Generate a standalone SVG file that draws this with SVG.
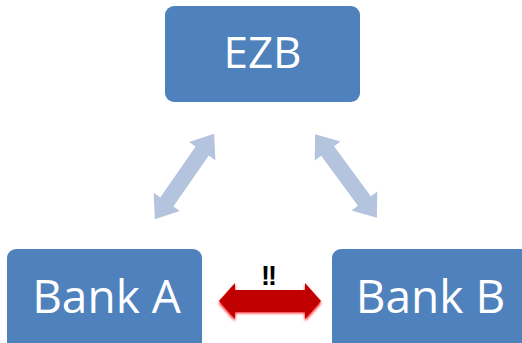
<svg xmlns="http://www.w3.org/2000/svg" width="522" height="343" viewBox="0 0 522 343">
<style>
.box{fill:#4F81BD;}
.lbl{fill:#FFFFFF;font-family:"Open Sans","Liberation Sans",sans-serif;text-anchor:middle;}
.barrow{fill:#B4C4DF;}
</style>
<defs>
<filter id="glow" x="-20%" y="-50%" width="140%" height="200%">
<feGaussianBlur stdDeviation="1.6"/>
</filter>
<polygon id="dbl" points="-52,0 -31,-16 -31,-8 31,-8 31,-16 52,0 31,16 31,8 -31,8 -31,16"/>
</defs>
<rect width="522" height="343" fill="#FFFFFF"/>
<g id="connectors">
<use href="#dbl" class="barrow" transform="translate(184.5,176.5) rotate(-55.2)"/>
<use href="#dbl" class="barrow" transform="translate(346,176) rotate(53.6)"/>
<g id="red-arrow">
<polygon points="219,303 235,285 235,293 305,293 305,285 321,303 305,321 305,313 235,313 235,321" fill="#FF0000" filter="url(#glow)"/>
<polygon points="219,301 235,283 235,290 305,290 305,283 321,301 305,319 305,312 235,312 235,319" fill="#C00000"/>
</g>
<text x="268" y="285" font-family="'Liberation Sans',sans-serif" font-weight="bold" font-size="27" letter-spacing="-2" text-anchor="middle" fill="#000000">!!</text>
</g>
<g id="ezb">
<rect class="box" x="165" y="6" width="195" height="96" rx="9"/>
<text class="lbl" x="262.5" y="68" font-size="44">EZB</text>
</g>
<g id="bank-a">
<rect class="box" x="7" y="249" width="195" height="110" rx="9"/>
<text class="lbl" x="106.5" y="313" font-size="46">Bank A</text>
</g>
<g id="bank-b">
<rect class="box" x="332" y="249" width="210" height="110" rx="9"/>
<text class="lbl" x="430.5" y="313" font-size="46">Bank B</text>
</g>
</svg>
